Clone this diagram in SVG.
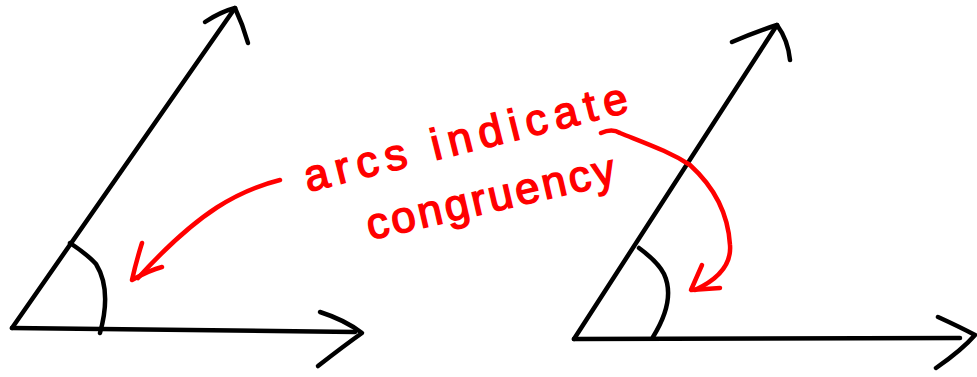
<svg xmlns="http://www.w3.org/2000/svg" width="977" height="377" viewBox="0 0 977 377">
<style>
.k{fill:none;stroke:#000;stroke-width:4.5;stroke-linecap:round;stroke-linejoin:round}
.r{fill:none;stroke:#f00;stroke-width:4.5;stroke-linecap:round;stroke-linejoin:round}
.t{fill:#f00;font-family:"Liberation Sans",Arial,sans-serif;font-size:44px;stroke:#f00;stroke-width:1.5}
</style>
<rect width="977" height="377" fill="#fff"/>
<g id="left-angle">
<path class="k" d="M12,328 L355,332"/>
<path class="k" d="M320,312 Q345,320 362,333 Q345,345 318,366"/>
<path class="k" d="M12,328 L235,8"/>
<path class="k" d="M205,22 Q220,12 235,8 Q243,25 248,43"/>
<path class="k" d="M70,243 Q88,255 96,264 Q112,290 100,333"/>
</g>
<g id="right-angle">
<path class="k" d="M574,339 L960,338"/>
<path class="k" d="M938,317 Q960,327 975,335 Q962,350 936,368"/>
<path class="k" d="M574,339 L777,25"/>
<path class="k" d="M732,42 Q755,32 777,25 Q788,40 790,60"/>
<path class="k" d="M639,248 Q658,262 664,274 Q676,300 653,337"/>
</g>
<g id="label">
<text class="t" transform="translate(308,192) rotate(-14)" textLength="332" lengthAdjust="spacing">arcs indicate</text>
<text class="t" transform="translate(370,240) rotate(-13)" textLength="254" lengthAdjust="spacing">congruency</text>
</g>
<g id="connectors">
<path class="r" d="M280,180 C240,190 200,210 138,278"/>
<path class="r" d="M142,243 Q136,262 132,280 Q150,270 162,267"/>
<path class="r" d="M601,133 Q612,128 620,133 C650,145 670,152 690,165 C712,185 728,210 730,245 C732,270 710,283 695,290"/>
<path class="r" d="M702,265 L691,290 L720,288"/>
</g>
</svg>
